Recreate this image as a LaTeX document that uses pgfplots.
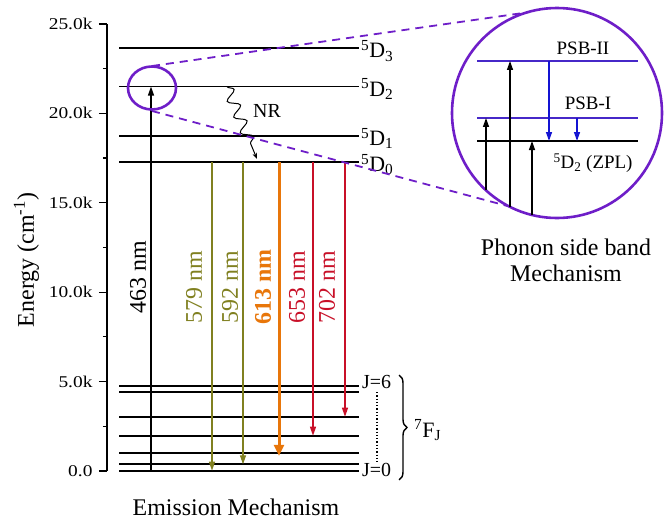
\documentclass[border=0pt]{standalone}
\usepackage{pgfplots}
\pgfplotsset{compat=1.18}
\usepackage{fontspec}
\setmainfont{Liberation Serif}
\usetikzlibrary{arrows.meta,decorations.pathmorphing,decorations.pathreplacing}
\definecolor{olv}{RGB}{128,128,32}
\definecolor{org}{RGB}{232,118,10}
\definecolor{rd}{RGB}{200,16,40}
\definecolor{purp}{RGB}{110,30,200}
\definecolor{psb}{RGB}{70,40,200}
\definecolor{blu}{RGB}{20,20,210}
\begin{document}
\begin{tikzpicture}
\begin{axis}[
  at={(107bp,48bp)}, anchor=south west, scale only axis,
  width=263bp, height=447bp,
  xmin=107, xmax=370, ymin=0, ymax=25000, clip=false,
  axis x line=none, axis y line=left,
  axis line style={-, line width=1.5bp},
  ytick={0,5000,10000,15000,20000,25000},
  yticklabels={0.0,5.0k,10.0k,15.0k,20.0k,25.0k},
  minor ytick={2500,7500,12500,17500,22500},
  scaled y ticks=false,
  tick align=outside, major tick length=8bp, minor tick length=4bp,
  tick style={black, line width=1.2bp},
  yticklabel style={font=\fontsize{16.5}{16.5}\selectfont, xscale=1.18, xshift=-2bp},
  /pgf/number format/assume math mode=true,
  ylabel={Energy (cm\textsuperscript{-1})},
  ylabel style={font=\fontsize{24}{24}\selectfont, at={(axis description cs:-0.245,0.472)}, anchor=south},
]
% energy levels 5D
\addplot[black, line width=1.8bp] coordinates {(119,23650) (359,23650)};
\addplot[black, line width=1.8bp] coordinates {(119,21500) (359,21500)};
\addplot[black, line width=1.8bp] coordinates {(119,18740) (359,18740)};
\addplot[black, line width=1.8bp] coordinates {(119,17280) (359,17280)};
% 7F levels
\addplot[black, line width=1.8bp] coordinates {(119,4770) (359,4770)};
\addplot[black, line width=1.8bp] coordinates {(119,4430) (359,4430)};
\addplot[black, line width=1.8bp] coordinates {(119,3035) (359,3035)};
\addplot[black, line width=1.8bp] coordinates {(119,1975) (359,1975)};
\addplot[black, line width=1.8bp] coordinates {(119,990) (359,990)};
\addplot[black, line width=1.8bp] coordinates {(119,375) (359,375)};
\addplot[black, line width=1.8bp] coordinates {(119,20) (359,20)};
% transitions
\addplot[black, line width=1.3bp, -{Triangle[length=9bp,width=6bp]}] coordinates {(151,0) (151,21500)};
\addplot[olv, line width=1.3bp, -{Triangle[length=9bp,width=6bp]}] coordinates {(212,17280) (212,20)};
\addplot[olv, line width=1.3bp, -{Triangle[length=9bp,width=6bp]}] coordinates {(243,17280) (243,375)};
\addplot[org, line width=3bp, -{Triangle[length=11bp,width=10bp]}] coordinates {(279,17280) (279,850)};
\addplot[rd, line width=1.3bp, -{Triangle[length=9bp,width=6bp]}] coordinates {(313,17280) (313,1975)};
\addplot[rd, line width=1.3bp, -{Triangle[length=9bp,width=6bp]}] coordinates {(345,17280) (345,3035)};
% wavelength labels
\node[rotate=90, font=\fontsize{24}{24}\selectfont] at (axis cs:138,10850) {463 nm};
\node[rotate=90, text=olv, font=\fontsize{24}{24}\selectfont] at (axis cs:194,10290) {579 nm};
\node[rotate=90, text=olv, font=\fontsize{24}{24}\selectfont] at (axis cs:230,10290) {592 nm};
\node[rotate=90, text=org, font=\fontsize{24}{24}\selectfont\bfseries] at (axis cs:263,10290) {613 nm};
\node[rotate=90, text=rd, font=\fontsize{24}{24}\selectfont] at (axis cs:297,10290) {653 nm};
\node[rotate=90, text=rd, font=\fontsize{24}{24}\selectfont] at (axis cs:327,10290) {702 nm};
% NR
\draw[black, line width=1bp, -{Stealth[length=6bp,width=4.5bp]},
  decoration={snake, amplitude=5.5bp, segment length=17bp, post length=12bp}, decorate]
  (axis cs:227,21500) -- (axis cs:257,17450);
\node[font=\fontsize{20}{20}\selectfont] at (axis cs:267,20134) {NR};
% level labels
\node[anchor=west, inner sep=1bp, font=\fontsize{22}{22}\selectfont] at (axis cs:360,23500) {\textsuperscript{5}D\textsubscript{3}};
\node[anchor=west, inner sep=1bp, font=\fontsize{22}{22}\selectfont] at (axis cs:360,21350) {\textsuperscript{5}D\textsubscript{2}};
\node[anchor=west, inner sep=1bp, font=\fontsize{22}{22}\selectfont] at (axis cs:360,18590) {\textsuperscript{5}D\textsubscript{1}};
\node[anchor=west, inner sep=1bp, font=\fontsize{22}{22}\selectfont] at (axis cs:360,17130) {\textsuperscript{5}D\textsubscript{0}};
\node[anchor=west, inner sep=1bp, font=\fontsize{20}{20}\selectfont] at (axis cs:361,4978) {J=6};
\node[anchor=west, inner sep=1bp, font=\fontsize{20}{20}\selectfont] at (axis cs:361,56) {J=0};
\draw[black, line width=1.3bp, dotted] (axis cs:377,4418) -- (axis cs:377,503);
\draw[black, line width=1.4bp, decoration={brace, amplitude=8bp}, decorate] (axis cs:399,5369) -- (axis cs:399,-503);
\node[anchor=west, inner sep=1bp, font=\fontsize{22}{22}\selectfont] at (axis cs:413,2293) {\textsuperscript{7}F\textsubscript{J}};
\node[font=\fontsize{24}{24}\selectfont] at (axis cs:236,-2013) {Emission Mechanism};
% zoom circle and dashed lines
\draw[purp, line width=2.6bp] (axis cs:152,21421) ellipse [x radius=24bp, y radius=21.5bp];
\draw[purp, line width=1.8bp, dash pattern=on 8bp off 6bp] (axis cs:152,22651) -- (axis cs:530,25671);
\draw[purp, line width=1.8bp, dash pattern=on 8bp off 6bp] (axis cs:152,20134) -- (axis cs:515,14709);
\draw[purp, line width=2.6bp] (axis cs:557,20022) circle [radius=105bp];
% inset levels
\addplot[psb, line width=1.4bp] coordinates {(477,22931) (638,22931)};
\addplot[psb, line width=1.4bp] coordinates {(477,19743) (638,19743)};
\addplot[black, line width=1.7bp] coordinates {(477,18456) (638,18456)};
\addplot[black, line width=1.3bp, -{Triangle[length=9bp,width=6bp]}] coordinates {(486,15716) (486,19743)};
\addplot[black, line width=1.3bp, -{Triangle[length=9bp,width=6bp]}] coordinates {(510,14765) (510,22931)};
\addplot[black, line width=1.3bp, -{Triangle[length=9bp,width=6bp]}] coordinates {(532,14318) (532,18456)};
\addplot[blu, line width=1.3bp, -{Triangle[length=9bp,width=6bp]}] coordinates {(549,22931) (549,18456)};
\addplot[blu, line width=1.3bp, -{Triangle[length=9bp,width=6bp]}] coordinates {(577,19743) (577,18456)};
\node[font=\fontsize{19}{19}\selectfont] at (axis cs:583,23658) {PSB-II};
\node[font=\fontsize{19}{19}\selectfont] at (axis cs:588,20582) {PSB-I};
\node[font=\fontsize{19}{19}\selectfont] at (axis cs:593,17226) {\textsuperscript{5}D\textsubscript{2} (ZPL)};
\node[align=center, font=\fontsize{24}{26}\selectfont] at (axis cs:566,11800) {Phonon side band\\Mechanism};
\end{axis}
\pgfresetboundingbox
\path[use as bounding box] (0,0) rectangle (664bp,519bp);
\end{tikzpicture}
\end{document}
